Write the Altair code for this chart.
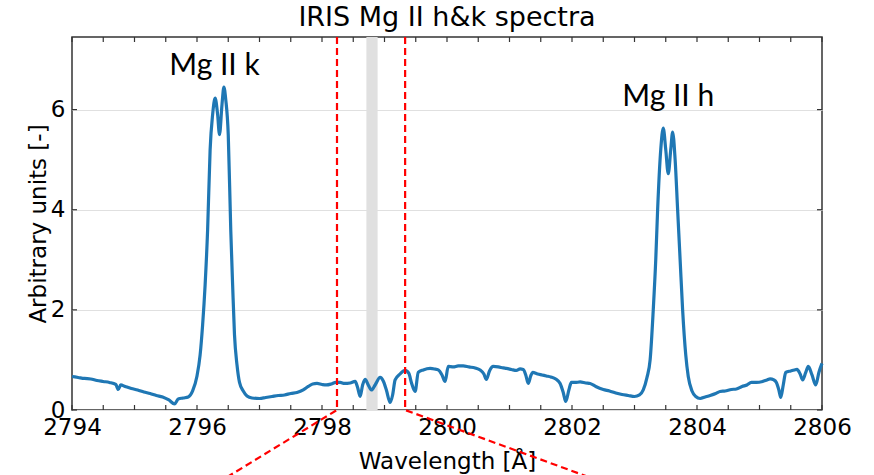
import altair as alt
import pandas as pd

# ---------------- data ----------------
wavelength = [
    2794.00, 2794.10, 2794.20, 2794.30, 2794.40, 2794.50, 2794.60, 2794.70, 2794.74, 2794.78,
    2794.85, 2794.95, 2795.05, 2795.15, 2795.25, 2795.35, 2795.45, 2795.55, 2795.64, 2795.70,
    2795.78, 2795.86, 2795.93, 2796.00, 2796.05, 2796.09, 2796.13, 2796.17, 2796.21, 2796.25,
    2796.29, 2796.33, 2796.36, 2796.40, 2796.43, 2796.46, 2796.50, 2796.54, 2796.57, 2796.60,
    2796.64, 2796.68, 2796.74, 2796.80, 2796.88, 2797.00, 2797.10, 2797.20, 2797.30, 2797.40,
    2797.50, 2797.60, 2797.70, 2797.78, 2797.85, 2797.92, 2798.00, 2798.07, 2798.15, 2798.22,
    2798.29, 2798.36, 2798.45, 2798.53, 2798.57, 2798.61, 2798.65, 2798.69, 2798.74, 2798.79,
    2798.85, 2798.93, 2798.98, 2799.03, 2799.09, 2799.13, 2799.17, 2799.25, 2799.33, 2799.39,
    2799.43, 2799.49, 2799.54, 2799.62, 2799.73, 2799.80, 2799.86, 2799.92, 2799.97, 2800.02,
    2800.10, 2800.18, 2800.26, 2800.35, 2800.45, 2800.53, 2800.59, 2800.63, 2800.68, 2800.74,
    2800.82, 2800.90, 2800.95, 2801.03, 2801.11, 2801.17, 2801.22, 2801.26, 2801.30, 2801.34,
    2801.37, 2801.45, 2801.52, 2801.59, 2801.66, 2801.74, 2801.81, 2801.86, 2801.90, 2801.95,
    2801.99, 2802.05, 2802.13, 2802.22, 2802.29, 2802.38, 2802.50, 2802.60, 2802.70, 2802.80,
    2802.90, 2803.00, 2803.08, 2803.14, 2803.20, 2803.25, 2803.30, 2803.34, 2803.37, 2803.42,
    2803.46, 2803.50, 2803.54, 2803.58, 2803.61, 2803.65, 2803.69, 2803.73, 2803.77, 2803.82,
    2803.86, 2803.92, 2803.98, 2804.05, 2804.13, 2804.21, 2804.30, 2804.37, 2804.45, 2804.55,
    2804.63, 2804.72, 2804.80, 2804.87, 2804.95, 2805.05, 2805.12, 2805.17, 2805.23, 2805.27,
    2805.31, 2805.34, 2805.38, 2805.42, 2805.50, 2805.56, 2805.60, 2805.65, 2805.69, 2805.74,
    2805.78, 2805.84, 2805.90, 2805.95, 2806.00,
]
intensity = [
    0.67, 0.65, 0.63, 0.62, 0.59, 0.57, 0.55, 0.51, 0.41, 0.50,
    0.47, 0.43, 0.40, 0.36, 0.33, 0.29, 0.26, 0.20, 0.12, 0.22,
    0.24, 0.26, 0.38, 0.68, 1.10, 1.70, 2.50, 3.60, 5.20, 5.90,
    6.23, 5.90, 5.50, 6.10, 6.45, 6.20, 5.50, 3.60, 2.50, 1.50,
    0.90, 0.55, 0.38, 0.28, 0.24, 0.23, 0.25, 0.27, 0.29, 0.30,
    0.33, 0.35, 0.40, 0.47, 0.52, 0.53, 0.51, 0.50, 0.52, 0.55,
    0.55, 0.53, 0.54, 0.57, 0.45, 0.27, 0.50, 0.61, 0.50, 0.40,
    0.50, 0.65, 0.58, 0.40, 0.15, 0.30, 0.60, 0.72, 0.79, 0.73,
    0.55, 0.37, 0.75, 0.80, 0.83, 0.82, 0.80, 0.70, 0.57, 0.87,
    0.86, 0.88, 0.88, 0.86, 0.84, 0.80, 0.72, 0.61, 0.78, 0.87,
    0.86, 0.84, 0.83, 0.81, 0.79, 0.82, 0.81, 0.70, 0.53, 0.68,
    0.75, 0.72, 0.70, 0.68, 0.66, 0.62, 0.53, 0.35, 0.17, 0.40,
    0.55, 0.55, 0.56, 0.54, 0.53, 0.47, 0.41, 0.38, 0.34, 0.31,
    0.29, 0.27, 0.30, 0.40, 0.65, 1.00, 2.00, 3.00, 4.00, 5.20,
    5.63, 5.20, 4.72, 5.20, 5.55, 5.00, 4.00, 3.00, 2.00, 1.10,
    0.67, 0.38, 0.27, 0.23, 0.26, 0.29, 0.33, 0.37, 0.38, 0.41,
    0.42, 0.47, 0.50, 0.55, 0.55, 0.57, 0.60, 0.62, 0.60, 0.55,
    0.40, 0.25, 0.50, 0.75, 0.78, 0.80, 0.81, 0.72, 0.60, 0.75,
    0.87, 0.70, 0.50, 0.75, 0.93,
]

x_domain = [2794, 2806]
y_domain = [0, 7.45]
x_label_values = [2794, 2796, 2798, 2800, 2802, 2804, 2806]
x_tick_values = [2794.0, 2794.5, 2795.0, 2795.5, 2796.0, 2796.5, 2797.0, 2797.5,
                 2798.0, 2798.5, 2799.0, 2799.5, 2800.0, 2800.5, 2801.0, 2801.5,
                 2802.0, 2802.5, 2803.0, 2803.5, 2804.0, 2804.5, 2805.0, 2805.5, 2806.0]
y_tick_values = [0, 2, 4, 6]

band_start = [2798.71]
band_end = [2798.89]

zoom_side = ["left", "left", "left", "right", "right", "right"]
zoom_order = [0, 1, 2, 0, 1, 2]
zoom_x = [2798.24, 2798.24, 2796.14, 2799.33, 2799.33, 2802.84]
zoom_y = [7.45, 0.0, -1.6, 7.45, 0.0, -1.6]

label_text = ["Mg II k", "Mg II h"]
label_x = [2796.28, 2803.54]
label_y = [6.70, 6.08]

W, H = 750, 373

# ---------------- tables ----------------
spec = pd.DataFrame({"wavelength": wavelength, "intensity": intensity})
band = pd.DataFrame({"b0": band_start, "b1": band_end})
zoom = pd.DataFrame({"x": zoom_x, "y": zoom_y, "side": zoom_side, "o": zoom_order})
labels = pd.DataFrame({"x": label_x, "y": label_y, "t": label_text})
xt = pd.DataFrame({"t": x_tick_values})
yt = pd.DataFrame({"v": y_tick_values})

xs = alt.Scale(domain=x_domain, nice=False, zero=False)
ys = alt.Scale(domain=y_domain, nice=False, zero=False)

x_axis = alt.Axis(
    values=x_label_values, format="d", title="Wavelength [Å]",
    grid=False, ticks=False, domain=False, labelFlush=False, labelOverlap=False,
    labelFont="DejaVu Sans", labelFontSize=23, labelColor="black", labelPadding=6,
    titleFont="DejaVu Sans", titleFontSize=23, titleFontWeight="normal", titleColor="black",
    titleX=W / 2, titleY=58, titleBaseline="alphabetic", titleAlign="center",
)
y_axis = alt.Axis(
    values=y_tick_values, format="d", title="Arbitrary units [-]",
    grid=True, gridColor="#e0e0e0", gridWidth=1, ticks=False, domain=False,
    labelFlush=False, labelOverlap=False,
    labelFont="DejaVu Sans", labelFontSize=23, labelColor="black", labelPadding=7,
    titleFont="DejaVu Sans", titleFontSize=23, titleFontWeight="normal", titleColor="black",
    titleX=-27, titleY=H / 2, titleAngle=-90, titleBaseline="alphabetic", titleAlign="center",
)

X = lambda f: alt.X(f, scale=xs, axis=x_axis)
Y = lambda f: alt.Y(f, scale=ys, axis=y_axis)

band_layer = alt.Chart(band).mark_rect(color="#e0e0e0").encode(
    x=X("b0:Q"), x2="b1:Q",
    y=alt.value(0), y2=alt.value(H),
)

spec_layer = alt.Chart(spec).mark_line(
    color="#1f77b4", strokeWidth=3.2, interpolate="monotone"
).encode(x=X("wavelength:Q"), y=Y("intensity:Q"))

zoom_layer = alt.Chart(zoom).mark_line(
    color="red", strokeWidth=2.2, strokeDash=[7, 4], clip=False
).encode(x=X("x:Q"), y=Y("y:Q"), detail="side:N", order="o:Q")

text_layer = alt.Chart(labels).mark_text(
    font="Lato", fontSize=30, baseline="alphabetic", align="center", color="black"
).encode(x=X("x:Q"), y=Y("y:Q"), text="t:N")

tick_style = dict(color="#333333", strokeWidth=1.2)
bottom_ticks = alt.Chart(xt).mark_rule(**tick_style).encode(
    x=X("t:Q"), y=alt.value(H), y2=alt.value(H - 5))
top_ticks = alt.Chart(xt).mark_rule(**tick_style).encode(
    x=X("t:Q"), y=alt.value(0), y2=alt.value(5))
left_ticks = alt.Chart(yt).mark_rule(**tick_style).encode(
    y=Y("v:Q"), x=alt.value(0), x2=alt.value(5))
right_ticks = alt.Chart(yt).mark_rule(**tick_style).encode(
    y=Y("v:Q"), x=alt.value(W - 5), x2=alt.value(W))

chart = alt.layer(
    band_layer, spec_layer, zoom_layer, text_layer,
    bottom_ticks, top_ticks, left_ticks, right_ticks,
).properties(
    width=W, height=H, background="white",
    title=alt.TitleParams(
        "IRIS Mg II h&k spectra", font="DejaVu Sans", fontSize=27, fontWeight="normal",
        color="black", anchor="middle", baseline="alphabetic", offset=10, dy=30,
    ),
    autosize=alt.AutoSizeParams(type="none"),
    padding={"left": 72, "top": 37, "right": 52, "bottom": 65},
).configure_view(
    stroke="#333333", strokeWidth=1.5
)

chart.save("out.html", embed_options={"renderer": "svg", "actions": False})
